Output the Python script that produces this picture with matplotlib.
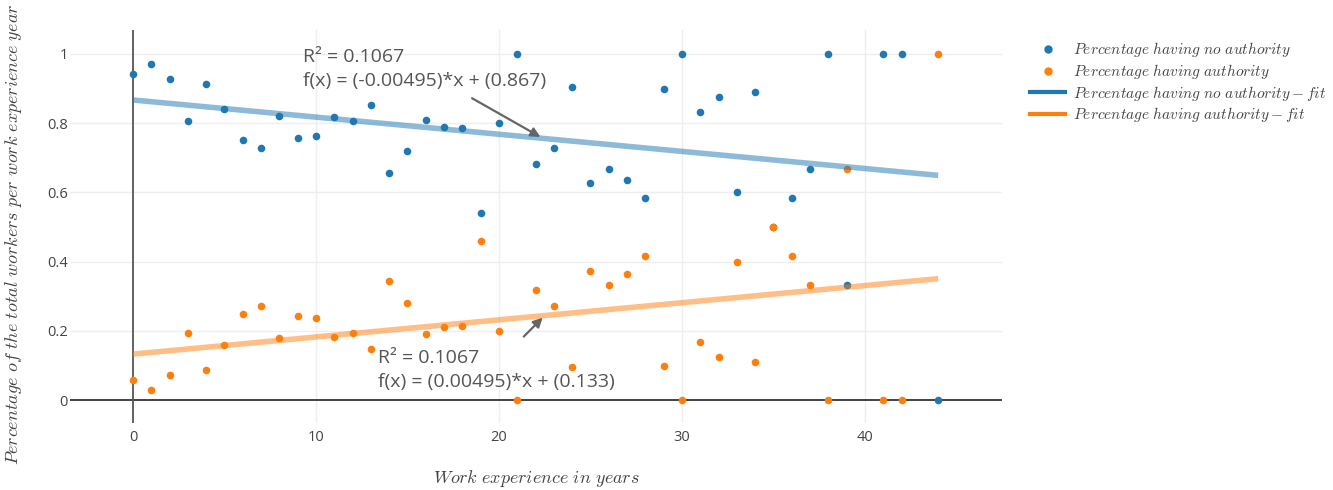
import numpy as np
import matplotlib
matplotlib.use('Agg')
import matplotlib.pyplot as plt
from matplotlib.lines import Line2D

plt.rcParams['mathtext.fontset'] = 'cm'
plt.rcParams['font.family'] = ['Open Sans', 'DejaVu Sans']

# work experience in years
years = [0, 1, 2, 3, 4, 5, 6, 7, 8, 9, 10, 11, 12, 13, 14, 15, 16, 17, 18, 19,
         20, 21, 22, 23, 24, 25, 26, 27, 28, 29, 30, 31, 32, 33, 34, 35, 36, 37,
         38, 39, 41, 42, 44]

no_authority = [0.942, 0.970, 0.928, 0.807, 0.912, 0.841, 0.750, 0.729, 0.821,
                0.758, 0.763, 0.818, 0.806, 0.852, 0.655, 0.720, 0.809, 0.788,
                0.786, 0.540, 0.800, 1.0, 0.682, 0.727, 0.905, 0.626, 0.668,
                0.636, 0.583, 0.900, 1.0, 0.833, 0.876, 0.601, 0.889, 0.5,
                0.584, 0.668, 1.0, 0.333, 1.0, 1.0, 0.0]

authority = [0.058, 0.030, 0.072, 0.193, 0.088, 0.159, 0.250, 0.271, 0.179,
             0.242, 0.237, 0.182, 0.194, 0.148, 0.345, 0.280, 0.191, 0.212,
             0.214, 0.460, 0.200, 0.0, 0.318, 0.273, 0.095, 0.374, 0.332,
             0.364, 0.417, 0.100, 0.0, 0.167, 0.124, 0.399, 0.111, 0.5,
             0.416, 0.332, 0.0, 0.667, 0.0, 0.0, 1.0]

# linear fits (slope, intercept) as shown in the annotations
fit_no_auth = (-0.00495, 0.867)
fit_auth = (0.00495, 0.133)
r2 = 0.1067

blue = '#1f77b4'
orange = '#ff7f0e'
txt_gray = '#555555'

fig = plt.figure(figsize=(13.33, 4.9), dpi=100)
ax = fig.add_axes([70 / 1333, 0.1367, 932 / 1333, 0.802])

x = np.array(years)
xs = np.array([min(years), max(years)])

ax.scatter(x, no_authority, s=30, color=blue, zorder=3, linewidths=0)
ax.scatter(x, authority, s=30, color=orange, zorder=3, linewidths=0)
ax.plot(xs, fit_no_auth[0] * xs + fit_no_auth[1], color=blue, alpha=0.5,
        lw=4, zorder=4, solid_capstyle='butt')
ax.plot(xs, fit_auth[0] * xs + fit_auth[1], color=orange, alpha=0.5,
        lw=4, zorder=4, solid_capstyle='butt')

ax.set_xlim(-3.44, 47.49)
ax.set_ylim(-0.066, 1.069)

ax.set_xticks([0, 10, 20, 30, 40])
ax.set_yticks([0, 0.2, 0.4, 0.6, 0.8, 1])
ax.set_yticklabels(['0', '0.2', '0.4', '0.6', '0.8', '1'])
ax.tick_params(length=0, colors='#444444', labelsize=10.5)
ax.tick_params(axis='y', pad=1.5)
ax.tick_params(axis='x', pad=5)
for s in ax.spines.values():
    s.set_visible(False)
for v in [10, 20, 30, 40]:
    ax.axvline(v, color='#eeeeee', lw=1, zorder=0)
for v in [0.2, 0.4, 0.6, 0.8, 1]:
    ax.axhline(v, color='#eeeeee', lw=1, zorder=0)
ax.axhline(0, color='#222222', lw=1.2, zorder=1)
ax.axvline(0, color='#555555', lw=1.3, zorder=1)

# annotations
ax.annotate('', xy=(22.4, fit_no_auth[0] * 22.4 + fit_no_auth[1]),
            xytext=(18.4, 0.876),
            arrowprops=dict(arrowstyle='-|>', color='#666666', lw=1.6,
                            mutation_scale=14))
ax.text(9.27, 0.976, 'R\u00b2 = %.4f' % r2, color=txt_gray, fontsize=14,
        ha='left', va='baseline')
ax.text(9.27, 0.906, 'f(x) = (%.5f)*x + (%.3f)' % fit_no_auth, color=txt_gray,
        fontsize=14, ha='left', va='baseline')

ax.annotate('', xy=(22.5, fit_auth[0] * 22.5 + fit_auth[1]),
            xytext=(21.25, 0.178),
            arrowprops=dict(arrowstyle='-|>', color='#666666', lw=1.6,
                            mutation_scale=14))
ax.text(13.4, 0.106, 'R\u00b2 = %.4f' % r2, color=txt_gray, fontsize=14,
        ha='left', va='baseline')
ax.text(13.4, 0.0367, 'f(x) = (%.5f)*x + (%.3f)' % fit_auth, color=txt_gray,
        fontsize=14, ha='left', va='baseline')

# axis titles
fig.text((70 + 1002) / 2 / 1333, 1 - 478 / 490, r'$Work\ experience\ in\ years$',
         ha='center', va='center', fontsize=13, color='#444444')
fig.text(14 / 1333, 1 - 234 / 490,
         r'$Percentage\ of\ the\ total\ workers\ per\ work\ experience\ year$',
         rotation=90, ha='center', va='center', fontsize=13, color='#444444')

handles = [
    Line2D([], [], marker='o', ls='none', color=blue, markersize=5),
    Line2D([], [], marker='o', ls='none', color=orange, markersize=5),
    Line2D([], [], color=blue, lw=3),
    Line2D([], [], color=orange, lw=3),
]
labels = [
    r'$Percentage\ having\ no\ authority$',
    r'$Percentage\ having\ authority$',
    r'$Percentage\ having\ no\ authority-fit$',
    r'$Percentage\ having\ authority-fit$',
]
leg = fig.legend(handles, labels, loc='upper left',
                 bbox_to_anchor=(1024 / 1333, 1 - 34 / 490), frameon=False,
                 fontsize=11.1, handlelength=2.25, handletextpad=0.5,
                 labelspacing=0.18, borderaxespad=0)
for t in leg.get_texts():
    t.set_color('#444444')

fig.savefig('out.png', dpi=100)
